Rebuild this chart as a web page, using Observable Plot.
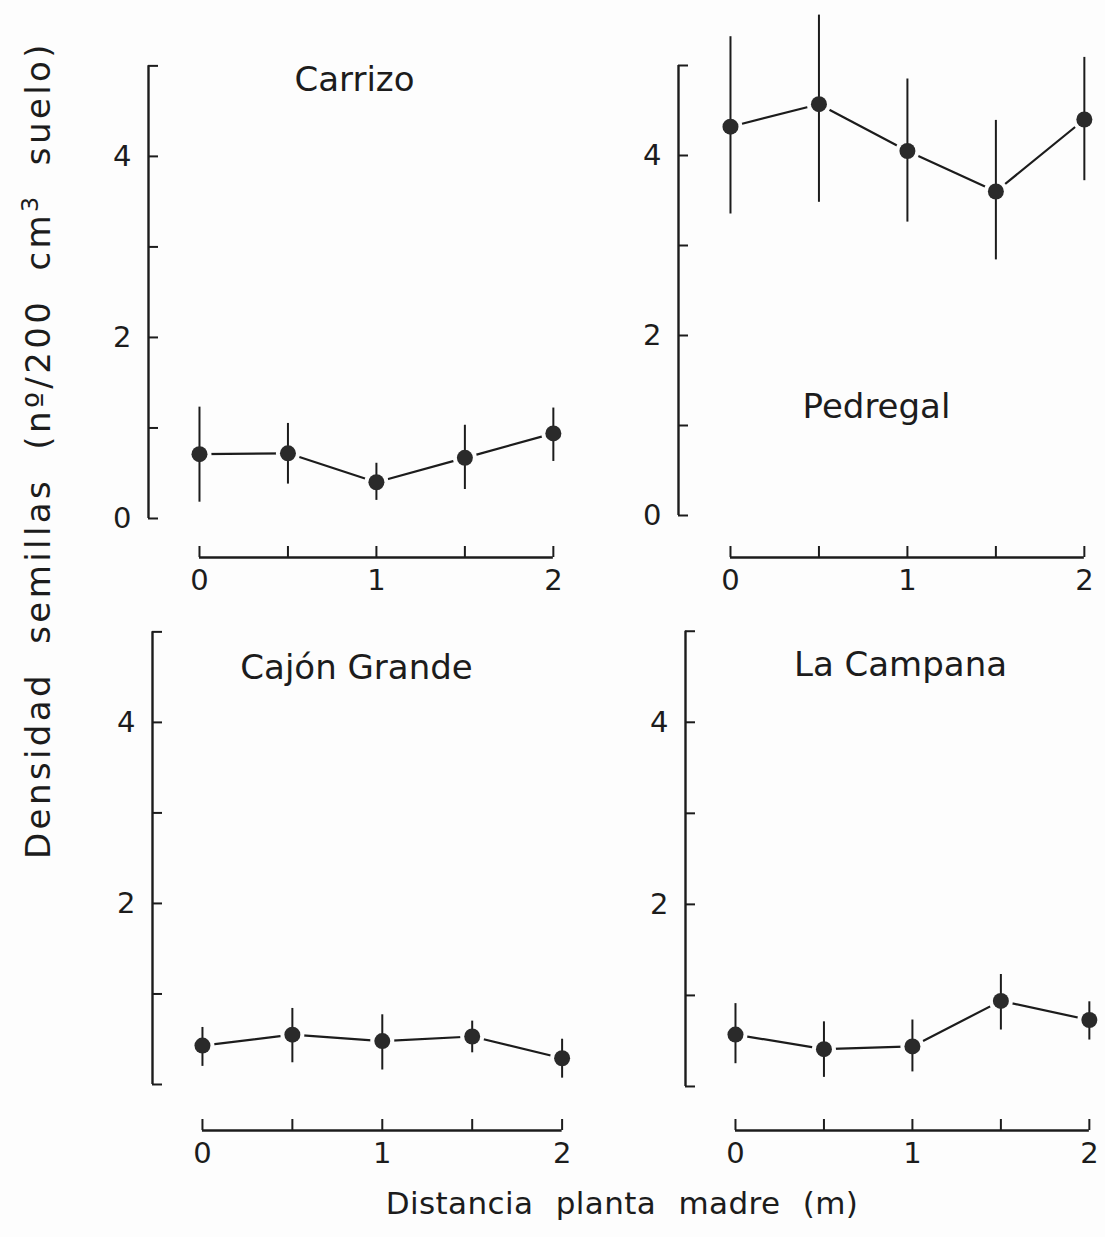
<!DOCTYPE html>
<html>
<head>
<meta charset="utf-8">
<script src="https://cdn.jsdelivr.net/npm/d3@7"></script>
<script src="https://cdn.jsdelivr.net/npm/@observablehq/plot@0.6"></script>
<style>
  html, body { margin: 0; padding: 0; background: #fdfdfd; }
  #chart { position: relative; width: 1105px; height: 1237px; overflow: hidden; font-family: "DejaVu Sans", sans-serif; color: #1c1c1c; }
  .panel { position: absolute; }
  .panel svg { max-width: none !important; }
  .ytitle { position: absolute; width: 1000px; height: 44px; line-height: 44px; text-align: center;
            font-size: 34px; letter-spacing: 3.4px; word-spacing: 14px; transform: rotate(-90deg); white-space: nowrap; }
  .xtitle { position: absolute; width: 800px; text-align: center; font-size: 31px; letter-spacing: 0.4px; word-spacing: 12px; white-space: nowrap; }
</style>
</head>
<body>
<div id="chart"></div>
<script>
// ---- data ----
const distances = [0, 0.5, 1, 1.5, 2];
const sites = ["Carrizo", "Pedregal", "Cajón Grande", "La Campana"];

const carrizoMean = [0.71, 0.72, 0.40, 0.67, 0.94];
const carrizoLow  = [0.18, 0.38, 0.20, 0.32, 0.63];
const carrizoHigh = [1.23, 1.05, 0.61, 1.03, 1.22];

const pedregalMean = [4.32, 4.57, 4.05, 3.60, 4.40];
const pedregalLow  = [3.35, 3.48, 3.26, 2.84, 3.72];
const pedregalHigh = [5.32, 5.56, 4.85, 4.39, 5.09];

const cajonMean = [0.43, 0.55, 0.48, 0.53, 0.29];
const cajonLow  = [0.20, 0.24, 0.16, 0.35, 0.07];
const cajonHigh = [0.63, 0.84, 0.77, 0.70, 0.50];

const campanaMean = [0.57, 0.41, 0.44, 0.94, 0.73];
const campanaLow  = [0.25, 0.10, 0.16, 0.62, 0.51];
const campanaHigh = [0.91, 0.71, 0.73, 1.23, 0.93];

const yTicks = [0, 1, 2, 3, 4, 5];
const yLabelsTop = [0, 2, 4];
const yLabelsBottom = [2, 4];
const xTicks = [0, 0.5, 1, 1.5, 2];
const xTickLabels = [0, 1, 2];

const yTitle = "Densidad semillas (nº/200 cm<sup style='font-size:0.7em'>3</sup> suelo)";
const xTitle = "Distancia planta madre (m)";

// ---- layout (page pixels) ----
const layout = [
  {site: sites[0], mean: carrizoMean, low: carrizoLow, high: carrizoHigh, yLabels: yLabelsTop,
   axX: 148, y0: 518, yPer: 90.5, x0: 199, xPer: 177, xAxisY: 557, tdx: 206, tdy: 78},
  {site: sites[1], mean: pedregalMean, low: pedregalLow, high: pedregalHigh, yLabels: yLabelsTop,
   axX: 678, y0: 515, yPer: 90, x0: 730, xPer: 177, xAxisY: 557, tdx: 198, tdy: 405},
  {site: sites[2], mean: cajonMean, low: cajonLow, high: cajonHigh, yLabels: yLabelsBottom,
   axX: 152, y0: 1084, yPer: 90.5, x0: 202, xPer: 180, xAxisY: 1130, tdx: 204, tdy: 100},
  {site: sites[3], mean: campanaMean, low: campanaLow, high: campanaHigh, yLabels: yLabelsBottom,
   axX: 685, y0: 1086, yPer: 91, x0: 735, xPer: 177, xAxisY: 1130, tdx: 215, tdy: 98}
];

const ink = "#1c1c1c";
const chart = document.getElementById("chart");

for (const p of layout) {
  const rows = distances.map((d, i) => ({d, m: p.mean[i], lo: p.low[i], hi: p.high[i]}));
  const xLo = (p.axX - p.x0) / p.xPer;
  const xHi = 2.08;
  const yLo = (p.y0 - p.xAxisY) / p.yPer;
  const yHi = 5.7;
  const mL = 70, mR = 22, mT = 0, mB = 55;
  const width = Math.round(mL + (xHi - xLo) * p.xPer + mR);
  const height = Math.round(mT + (yHi - yLo) * p.yPer + mB);
  const left = p.axX - mL;
  const top = p.y0 - yHi * p.yPer - mT;
  const tickX = 10 / p.xPer;   // inward tick length on y axis
  const tickY = 11 / p.yPer;   // upward tick length on x axis

  const svg = Plot.plot({
    width, height,
    marginLeft: mL, marginRight: mR, marginTop: mT, marginBottom: mB,
    style: {background: "transparent", overflow: "visible", fontFamily: "DejaVu Sans, sans-serif", color: ink},
    x: {domain: [xLo, xHi]},
    y: {domain: [yLo, yHi]},
    marks: [
      // y axis line + inward ticks
      Plot.ruleX([xLo], {y1: 0, y2: 5, stroke: ink, strokeWidth: 2.4}),
      Plot.ruleY(yTicks, {y: d => d, x1: xLo, x2: xLo + tickX, stroke: ink, strokeWidth: 2}),
      Plot.axisY({ticks: p.yLabels, tickSize: 0, tickPadding: 17, fontSize: 29, label: null, tickFormat: d => String(d)}),
      // x axis line + upward ticks
      Plot.ruleY([yLo], {x1: 0, x2: 2, stroke: ink, strokeWidth: 2.6}),
      Plot.ruleX(xTicks, {x: d => d, y1: yLo, y2: yLo + tickY, stroke: ink, strokeWidth: 2}),
      Plot.axisX({ticks: xTickLabels, tickSize: 0, tickPadding: 12, fontSize: 29, label: null, tickFormat: d => String(d)}),
      // series
      Plot.line(rows, {x: "d", y: "m", stroke: ink, strokeWidth: 2.2}),
      Plot.dot(rows, {x: "d", y: "m", r: 12, fill: "#fdfdfd", stroke: "none"}),
      Plot.ruleX(rows, {x: "d", y1: "lo", y2: "hi", stroke: ink, strokeWidth: 2}),
      Plot.dot(rows, {x: "d", y: "m", r: 8, fill: "#2a2a2a", stroke: "none"}),
      // site name
      Plot.text([p.site], {frameAnchor: "top-left", dx: p.tdx, dy: p.tdy, text: d => d, ariaLabel: "site-title",
        textAnchor: "middle", lineAnchor: "middle", fontSize: 34, fill: ink})
    ]
  });
  d3.select(svg).selectAll('g[aria-label="site-title"] text')
    .style("letter-spacing", "1.3px").style("word-spacing", "10px");
  const wrap = document.createElement("div");
  wrap.className = "panel";
  wrap.style.left = left + "px";
  wrap.style.top = top + "px";
  wrap.style.width = width + "px";
  wrap.appendChild(svg);
  chart.appendChild(wrap);
}

const yt = document.createElement("div");
yt.className = "ytitle";
yt.innerHTML = yTitle;
yt.style.left = (30 - 500) + "px";
yt.style.top = (450 - 22) + "px";
chart.appendChild(yt);

const xt = document.createElement("div");
xt.className = "xtitle";
xt.textContent = xTitle;
xt.style.left = (622 - 400) + "px";
xt.style.top = "1185px";
chart.appendChild(xt);
</script>
</body>
</html>
